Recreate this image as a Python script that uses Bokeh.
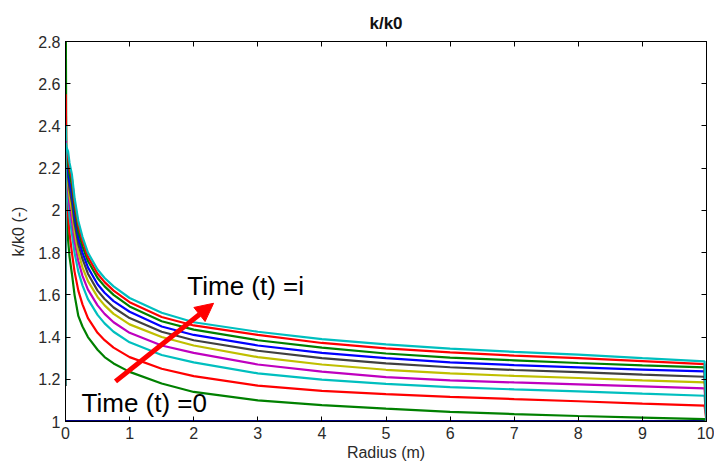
from bokeh.plotting import figure
from bokeh.models import Range1d, LinearAxis, FixedTicker, Label, Arrow, NormalHead
from bokeh.embed import file_html
from bokeh.resources import INLINE

# ---- data ----
radius = [0, 0.004, 0.015, 0.04, 0.063, 0.1, 0.141, 0.2, 0.265, 0.35, 0.5, 0.61, 0.75,
          1, 1.5, 2, 3, 4, 5, 6, 7, 8, 9, 9.97, 10]

t0_radius = [0, 10]
t0_k = [1.0, 1.0]

k_t1 = [1.17, 2.95, 2.05, 1.86, 1.78, 1.70, 1.60, 1.50, 1.45, 1.40, 1.34, 1.305, 1.275,
        1.235, 1.18, 1.14, 1.10, 1.078, 1.061, 1.046, 1.035, 1.026, 1.018, 1.011, 1.0]
k_t2 = [1.17, 2.55, 2.15, 1.98, 1.89, 1.80, 1.71, 1.62, 1.555, 1.49, 1.42, 1.385, 1.35,
        1.305, 1.25, 1.215, 1.17, 1.145, 1.13, 1.117, 1.106, 1.096, 1.085, 1.075, 1.0]
k_t3 = [1.17, 2.40, 2.20, 2.05, 1.97, 1.89, 1.80, 1.71, 1.645, 1.58, 1.505, 1.465, 1.425,
        1.375, 1.315, 1.28, 1.228, 1.198, 1.178, 1.163, 1.152, 1.143, 1.132, 1.122, 1.0]
k_t4 = [1.17, 2.33, 2.22, 2.10, 2.025, 1.95, 1.855, 1.76, 1.69, 1.625, 1.55, 1.51, 1.47,
        1.42, 1.36, 1.325, 1.27, 1.236, 1.21, 1.195, 1.185, 1.176, 1.166, 1.157, 1.0]
k_t5 = [1.17, 2.30, 2.22, 2.13, 2.065, 2.00, 1.90, 1.80, 1.73, 1.665, 1.59, 1.55, 1.51,
        1.46, 1.40, 1.36, 1.305, 1.27, 1.245, 1.228, 1.216, 1.206, 1.195, 1.185, 1.0]
k_t6 = [1.17, 2.29, 2.22, 2.16, 2.10, 2.04, 1.94, 1.84, 1.77, 1.70, 1.62, 1.58, 1.54,
        1.49, 1.425, 1.385, 1.335, 1.30, 1.275, 1.257, 1.244, 1.234, 1.222, 1.212, 1.0]
k_t7 = [1.17, 2.29, 2.23, 2.19, 2.135, 2.08, 1.975, 1.87, 1.80, 1.73, 1.65, 1.61, 1.57,
        1.52, 1.45, 1.41, 1.36, 1.325, 1.30, 1.28, 1.267, 1.256, 1.246, 1.237, 1.0]
k_t8 = [1.17, 2.30, 2.25, 2.22, 2.17, 2.12, 2.01, 1.90, 1.83, 1.76, 1.68, 1.64, 1.60,
        1.545, 1.475, 1.435, 1.385, 1.35, 1.322, 1.303, 1.29, 1.277, 1.266, 1.256, 1.0]
k_t9 = [1.17, 2.30, 2.27, 2.25, 2.20, 2.15, 2.04, 1.93, 1.855, 1.78, 1.70, 1.66, 1.62,
        1.565, 1.495, 1.455, 1.41, 1.372, 1.346, 1.327, 1.312, 1.30, 1.286, 1.272, 1.0]
k_t10 = [1.17, 2.32, 2.30, 2.28, 2.225, 2.17, 2.06, 1.95, 1.875, 1.80, 1.72, 1.68, 1.64,
         1.585, 1.515, 1.47, 1.425, 1.39, 1.365, 1.345, 1.33, 1.317, 1.30, 1.285, 1.0]

series = [k_t1, k_t2, k_t3, k_t4, k_t5, k_t6, k_t7, k_t8, k_t9, k_t10]
colors = ["#008000", "#ff0000", "#00bfbf", "#bf00bf", "#bfbf00", "#404040",
          "#0000ff", "#008000", "#ff0000", "#00bfbf"]

x_ticks = [0, 1, 2, 3, 4, 5, 6, 7, 8, 9, 10]
y_ticks = [1, 1.2, 1.4, 1.6, 1.8, 2, 2.2, 2.4, 2.6, 2.8]
y_tick_labels = ["1", "1.2", "1.4", "1.6", "1.8", "2", "2.2", "2.4", "2.6", "2.8"]

FONT = "Liberation Sans"
TICK_COLOR = "#2a2a2a"

p = figure(width=714, height=469, x_range=Range1d(0, 10), y_range=Range1d(1, 2.8),
           output_backend="svg", toolbar_location=None,
           min_border_left=65, min_border_right=8, min_border_top=41, min_border_bottom=48)

p.title.text = "k/k0"
p.title.align = "center"
p.title.text_font = FONT
p.title.text_font_size = "17px"
p.title.text_font_style = "bold"
p.title.text_color = "#111111"
p.title.standoff = 17

p.xgrid.visible = False
p.ygrid.visible = False
p.outline_line_color = "black"
p.outline_line_alpha = 1.0
p.background_fill_color = "white"
p.border_fill_color = "white"

# flat t = 0 line
p.line(t0_radius, t0_k, line_color="#000080", line_width=3)
for ys, c in zip(series, colors):
    p.line(radius, ys, line_color=c, line_width=2.2)

def style_axis(ax, labels=True):
    ax.axis_line_color = "black"
    ax.major_tick_line_color = "black"
    ax.major_tick_in = 5
    ax.major_tick_out = 0
    ax.minor_tick_line_color = None
    ax.major_label_text_font = FONT
    ax.major_label_text_color = TICK_COLOR
    ax.axis_label_text_font = FONT
    ax.axis_label_text_color = TICK_COLOR
    ax.axis_label_text_font_style = "normal"
    ax.major_label_text_font_size = "16px"
    ax.axis_label_text_font_size = "16px"
    if not labels:
        ax.major_label_text_color = None
        ax.major_label_standoff = 0

xa = p.xaxis[0]
xa.ticker = FixedTicker(ticks=x_ticks)
xa.axis_label = "Radius (m)"
style_axis(xa)
xa.major_label_standoff = 5
xa.axis_label_standoff = 2

ya = p.yaxis[0]
ya.ticker = FixedTicker(ticks=y_ticks)
ya.major_label_overrides = {t: l for t, l in zip(y_ticks, y_tick_labels)}
ya.axis_label = "k/k0 (-)"
style_axis(ya)
ya.major_label_standoff = 5
ya.axis_label_standoff = 8

top = LinearAxis(ticker=FixedTicker(ticks=x_ticks))
style_axis(top, labels=False)
p.add_layout(top, "above")
right = LinearAxis(ticker=FixedTicker(ticks=y_ticks))
style_axis(right, labels=False)
p.add_layout(right, "right")

# annotations
p.add_layout(Arrow(end=NormalHead(size=18, fill_color="#ff0000", line_color="#ff0000"),
                   x_start=0.78, y_start=1.19, x_end=2.31, y_end=1.56,
                   line_color="#ff0000", line_width=5))
p.add_layout(Label(x=1.90, y=1.64, text="Time (t) =i", text_font=FONT,
                   text_font_size="26px", text_color="black", text_baseline="alphabetic"))
p.add_layout(Label(x=0.25, y=1.088, text="Time (t) =0", text_font=FONT,
                   text_font_size="26px", text_color="black", text_baseline="alphabetic"))

open("out.html", "w").write(file_html(p, INLINE))
